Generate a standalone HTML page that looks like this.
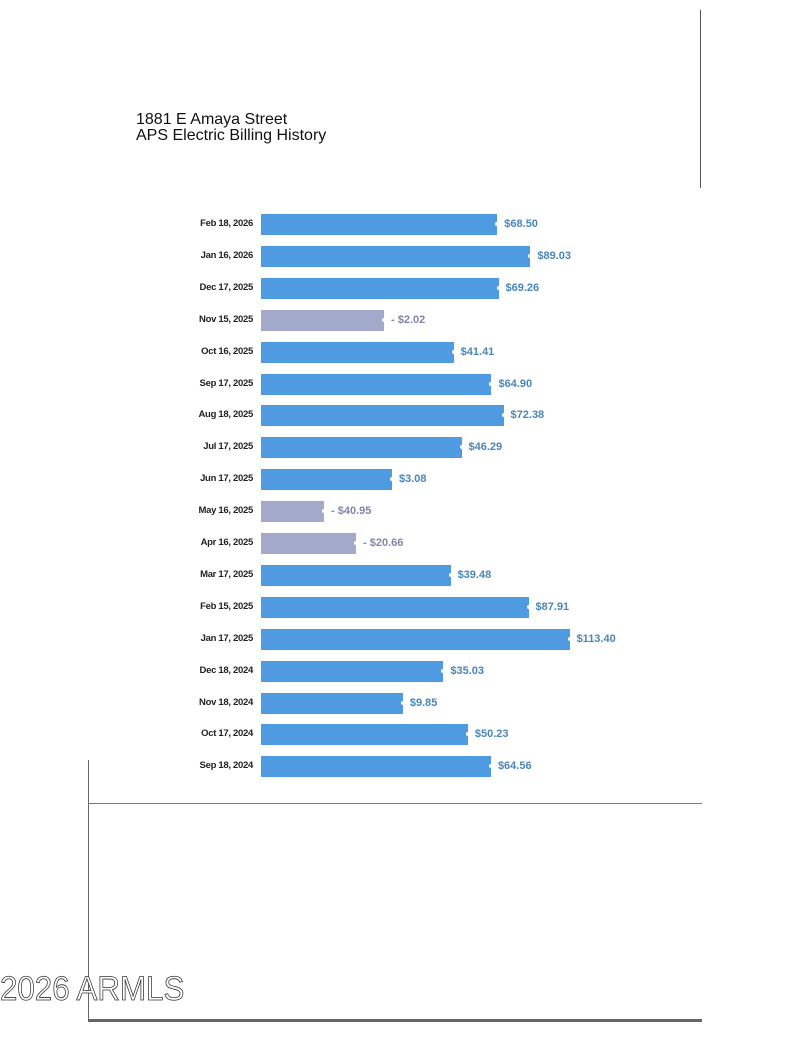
<!DOCTYPE html>
<html><head><style>
body{margin:0;width:800px;height:1038px;background:#fff;position:relative;overflow:hidden;font-family:"Liberation Sans",sans-serif}
.t{position:absolute;left:136px;font-size:16px;color:#111;line-height:18px}
.l{position:absolute;right:547px;font-size:9.5px;font-weight:bold;color:#222;letter-spacing:-0.3px;white-space:nowrap}
.b{position:absolute;left:261px;height:21px;background:#4f9be2}
.n{background:#a3a9cb}
.d{position:absolute;width:4px;height:4px;border-radius:50%;background:#fff}
.v{position:absolute;font-size:11px;font-weight:bold;color:#4a86b8;white-space:nowrap}
.vn{color:#7f86a8}
</style></head><body>
<div class="t" style="top:111px">1881 E Amaya Street</div>
<div class="t" style="top:127px">APS Electric Billing History</div>
<div style="position:absolute;left:700px;top:10px;width:1px;height:178px;background:#555"></div>
<div style="position:absolute;left:88px;top:760px;width:1px;height:262px;background:#666"></div>
<div style="position:absolute;left:88px;top:803px;width:614px;height:1px;background:#777"></div>
<div style="position:absolute;left:88px;top:1019px;width:614px;height:3px;background:#666"></div>
<div style="position:absolute;left:0;top:970px;font-size:34px;color:#fff;-webkit-text-stroke:0.8px #333;font-family:'Liberation Sans',sans-serif;transform:scaleX(0.92);transform-origin:left;white-space:nowrap">2026 ARMLS</div>
<div id="c"></div>
<script>
var d=[["Feb 18, 2026",68.50],["Jan 16, 2026",89.03],["Dec 17, 2025",69.26],["Nov 15, 2025",-2.02,384],["Oct 16, 2025",41.41],["Sep 17, 2025",64.90],["Aug 18, 2025",72.38],["Jul 17, 2025",46.29],["Jun 17, 2025",3.08],["May 16, 2025",-40.95,324],["Apr 16, 2025",-20.66,356],["Mar 17, 2025",39.48],["Feb 15, 2025",87.91],["Jan 17, 2025",113.40],["Dec 18, 2024",35.03],["Nov 18, 2024",9.85],["Oct 17, 2024",50.23],["Sep 18, 2024",64.56]];
var h="";
d.forEach(function(r,i){var cy=224+i*31.9;var neg=r[1]<0;var e=neg?r[2]:387+1.61*r[1];
h+='<div class="l" style="top:'+(cy-6)+'px">'+r[0]+'</div>';
h+='<div class="b'+(neg?' n':'')+'" style="top:'+(cy-10)+'px;width:'+(e-261)+'px"></div>';
h+='<div class="d" style="left:'+(e-2)+'px;top:'+(cy-2)+'px"></div>';
h+='<div class="v'+(neg?' vn':'')+'" style="left:'+(e+7)+'px;top:'+(cy-6)+'px">'+(neg?'- $'+(-r[1]).toFixed(2):'$'+r[1].toFixed(2))+'</div>';});
document.getElementById("c").innerHTML=h;
</script>
</body></html>
